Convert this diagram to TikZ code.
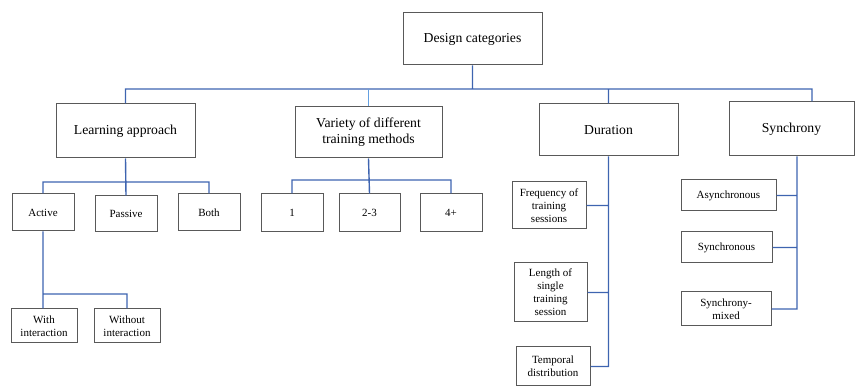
\documentclass[tikz,border=0pt]{standalone}
\usepackage{fontspec}
\setmainfont{Liberation Serif}
\newfontfamily\boxfont{Liberation Serif}
\usepackage{xcolor}
\usepackage{tikz}
\usetikzlibrary{
    positioning,
    calc
}
\definecolor{linkblue}{RGB}{62,100,176}
\definecolor{paleblue}{RGB}{100,160,225}
\tikzset{
  basic/.style = {
      draw=black!65,
      line width=1pt,
      rectangle,
      fill=white,
      inner sep=1pt,
      align=center
  },
  category/.style = {
      basic,
      font=\boxfont\fontsize{13.7}{16}\selectfont
  },
  option/.style = {
      basic,
      font=\boxfont\fontsize{11}{13}\selectfont
  },
  link/.style = {
      draw=linkblue,
      line width=1.4pt
  }
}

\begin{document}
\begin{tikzpicture}[x=1pt, y=-1pt]
    \useasboundingbox (0,0) rectangle (855,387);
    % Nodes
    \node[category, minimum width=139, minimum height=52] (root) at (472.5,39) {Design categories};
    \node[category, minimum width=139, minimum height=54] (learn) at (125.5,131) {Learning approach};
    \node[category, minimum width=147, minimum height=51] (variety) at (368.5,132.5) {Variety of different\\training methods};
    \node[category, minimum width=139, minimum height=52] (dur) at (608.5,130) {Duration};
    \node[category, minimum width=125, minimum height=54] (sync) at (791.5,129) {Synchrony};
    % Learning approach
    \node[option, minimum width=62, minimum height=37] (active) at (43,212.5) {Active};
    \node[option, minimum width=62, minimum height=36] (passive) at (126,214) {Passive};
    \node[option, minimum width=62, minimum height=37] (both) at (209,212.5) {Both};
    \node[option, minimum width=66, minimum height=34] (withint) at (44,326) {With\\interaction};
    \node[option, minimum width=66, minimum height=34] (noint) at (127,326) {Without\\interaction};
    % Variety
    \node[option, minimum width=62, minimum height=38] (one) at (292,213) {1};
    \node[option, minimum width=61, minimum height=38] (few) at (369.5,213) {2-3};
    \node[option, minimum width=62, minimum height=38] (many) at (451,213) {4+};
    % Duration
    \node[option, minimum width=74, minimum height=47] (freq) at (549,205.5) {Frequency of\\training\\sessions};
    \node[option, minimum width=73, minimum height=59] (length) at (550.5,292.5) {Length of\\single\\training\\session};
    \node[option, minimum width=74, minimum height=39] (temporal) at (553,366.5) {Temporal\\distribution};
    % Synchrony
    \node[option, minimum width=95, minimum height=31] (async) at (728.5,195.5) {Asynchronous};
    \node[option, minimum width=91, minimum height=31] (synch) at (726.5,247.5) {Synchronous};
    \node[option, minimum width=90, minimum height=34] (mixed) at (726,309) {Synchrony-\\mixed};
    % Bus lines
    \coordinate (topbus) at (0,89);
    \coordinate (learnbus) at (0,182);
    \coordinate (varbus) at (0,180);
    \coordinate (activebus) at (0,294);
    \coordinate (syncdrop) at ([xshift=5.5]sync.south);
    % Edges
    \path[link]
    (root.south) -- (root.south |- topbus) -| (learn.north)
    (root.south |- topbus) -| (dur.north)
    (root.south |- topbus) -| ([xshift=20.5]sync.north)
    (learn.south) -- (passive.north)
    (active.north) -- (active.north |- learnbus) -| (both.north)
    (variety.south) -- (few.north)
    (one.north) -- (one.north |- varbus) -| (many.north)
    (active.south) -- (active.south |- withint.north)
    (active.south |- activebus) -| (noint.north)
    (dur.south) |- (temporal.east)
    (freq.east) -- (freq.east -| dur.south)
    (length.east) -- (length.east -| dur.south)
    (syncdrop) |- (mixed.east)
    (async.east) -- (async.east -| syncdrop)
    (synch.east) -- (synch.east -| syncdrop);
    \path[link, draw=paleblue]
    (variety.north |- topbus) -- (variety.north);
\end{tikzpicture}
\end{document}
